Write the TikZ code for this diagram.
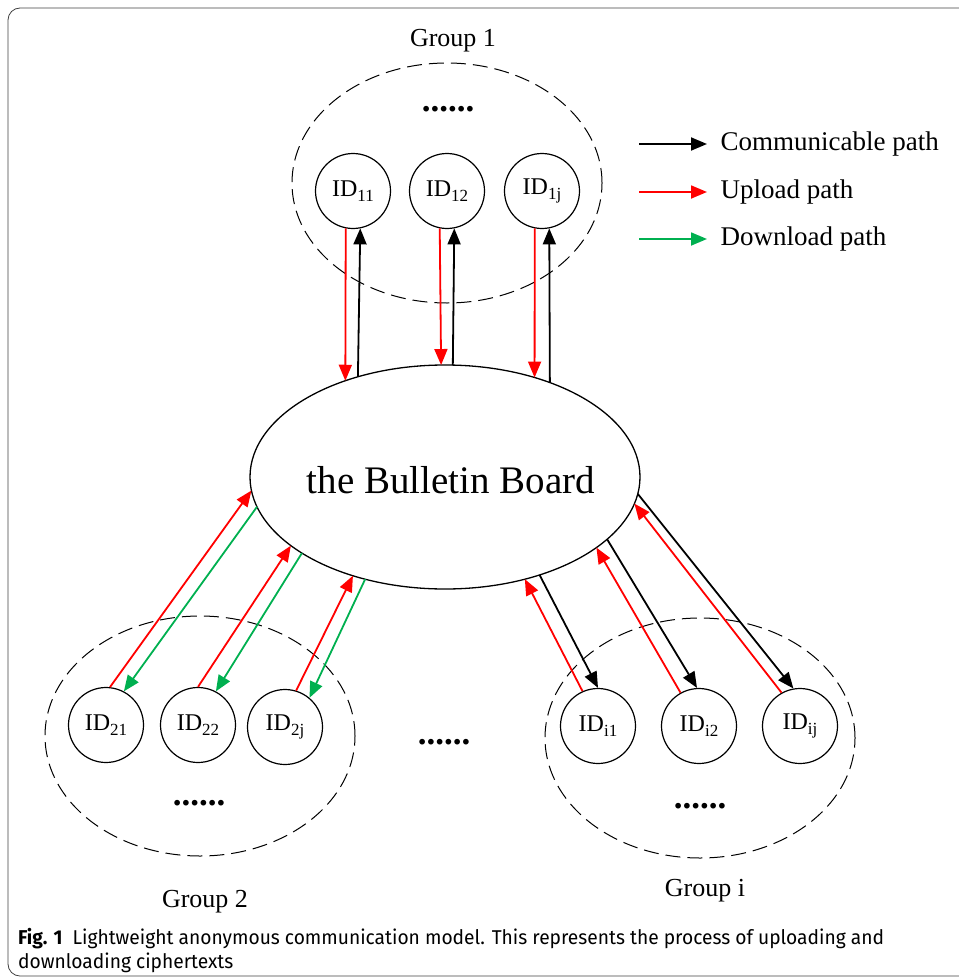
\documentclass[tikz,border=0pt]{standalone}
\usepackage{fontspec}
\setmainfont{Liberation Serif}
\newfontfamily\capfont[FakeStretch=0.96]{Fira Sans}
\usetikzlibrary{arrows.meta,shapes.geometric}
\definecolor{dlgreen}{RGB}{0,176,80}
\tikzset{
  idnode/.style={circle,draw,line width=1.2pt,minimum size=75pt,inner sep=0pt,
    font=\fontsize{24}{24}\selectfont},
  grpnode/.style={ellipse,draw,dashed,dash pattern=on 15pt off 7pt,line width=1pt,
    minimum width=310pt,minimum height=240pt,inner sep=0pt},
  comm/.style={draw=black,line width=1.8pt,-{Triangle[length=16pt,width=13pt]}},
  upl/.style={comm,draw=red},
  dwn/.style={comm,draw=dlgreen},
  dots/.style={anchor=base,font=\fontsize{35}{35}\selectfont\bfseries},
  grplabel/.style={anchor=base,font=\fontsize{26}{26}\selectfont},
  legtext/.style={anchor=west,font=\fontsize{27}{27}\selectfont}
}
\newcommand{\idlab}[1]{ID\raisebox{-0.22em}{\fontsize{17}{17}\selectfont #1}}
\begin{document}
\begin{tikzpicture}[x=1pt,y=-1pt]
  \useasboundingbox (0,0) rectangle (958,979);
  % panel frame
  \draw[line width=0.8pt,black!75,rounded corners=12pt] (975,8) -- (8,8) -- (8,976) -- (975,976);

  % the board
  \node[ellipse,draw,line width=1.3pt,minimum width=390pt,minimum height=224pt,
    inner sep=0pt,outer sep=0pt] (board) at (445,477) {};
  \node[font=\fontsize{39}{39}\selectfont] (bbtext) at (451,480) {the Bulletin Board};

  % groups
  \node[grpnode] (grp1) at (447,183) {};
  \node[grpnode] (grp2) at (200,736) {};
  \node[grpnode] (grpi) at (700,738) {};
  \node[grplabel] (g1lab) at (453,47) {Group 1};
  \node[grplabel] (g2lab) at (205,907) {Group 2};
  \node[grplabel] (gilab) at (705,896) {Group i};
  \node[dots] (dots1) at (448,112) {......};
  \node[dots] (dots2) at (199,805) {......};
  \node[dots] (dotsm) at (444,744) {......};
  \node[dots] (dotsi) at (700,808) {......};

  % members of group 1
  \node[idnode] (id11) at (353,191) {\idlab{11}};
  \node[idnode] (id12) at (447,191) {\idlab{12}};
  \node[idnode] (id1j) at (542,191) {\idlab{1j}};
  % members of group 2
  \node[idnode] (id21) at (106,725) {\idlab{21}};
  \node[idnode] (id22) at (198,725) {\idlab{22}};
  \node[idnode] (id2j) at (285,727) {\idlab{2j}};
  % members of group i
  \node[idnode] (idi1) at (598,726) {\idlab{i1}};
  \node[idnode] (idi2) at (699,726) {\idlab{i2}};
  \node[idnode] (idij) at (800,726) {\idlab{ij}};

  % group 1 to and from the board
  \draw[upl] (id11.259) -- (board.136);
  \draw[comm] (board.131) -- (id11.281);
  \draw[upl] (id12.259) -- (board.92);
  \draw[comm] (board.86) -- (id12.281);
  \draw[upl] (id1j.259) -- (board.48);
  \draw[comm] (board.42) -- (id1j.281);
  % group 2 to and from the board
  \draw[upl] (id21.84) -- (board.184);
  \draw[dwn] (board.189) -- (id21.62);
  \draw[upl] (id22.90) -- (board.204);
  \draw[dwn] (board.208) -- (id22.62);
  \draw[upl] (id2j.73) -- (board.227);
  \draw[dwn] (board.232) -- (id2j.50);
  % group i to and from the board
  \draw[upl] (idi1.114) -- (board.308);
  \draw[comm] (board.314) -- (idi1.90);
  \draw[upl] (idi2.119) -- (board.335);
  \draw[comm] (board.339) -- (idi2.93);
  \draw[upl] (idij.119) -- (board.352);
  \draw[comm] (board.355) -- (idij.100);

  % legend
  \coordinate (ls1) at (639,144);
  \coordinate (ls2) at (639,192);
  \coordinate (ls3) at (639,239);
  \node[legtext] (lt1) at (717,144) {Communicable path};
  \node[legtext] (lt2) at (717,192) {Upload path};
  \node[legtext] (lt3) at (717,239) {Download path};
  \draw[comm,shorten >=10pt] (ls1) -- (lt1.west);
  \draw[upl,shorten >=10pt] (ls2) -- (lt2.west);
  \draw[dwn,shorten >=10pt] (ls3) -- (lt3.west);

  % caption
  \node[anchor=north west,inner sep=0pt,align=left,
    font=\capfont\fontsize{20}{24}\selectfont] (caption) at (18,928)
    {\textbf{Fig. 1}\hspace{0.5em}Lightweight anonymous communication model. This represents the process of uploading and\\
     downloading ciphertexts};
\end{tikzpicture}
\end{document}
